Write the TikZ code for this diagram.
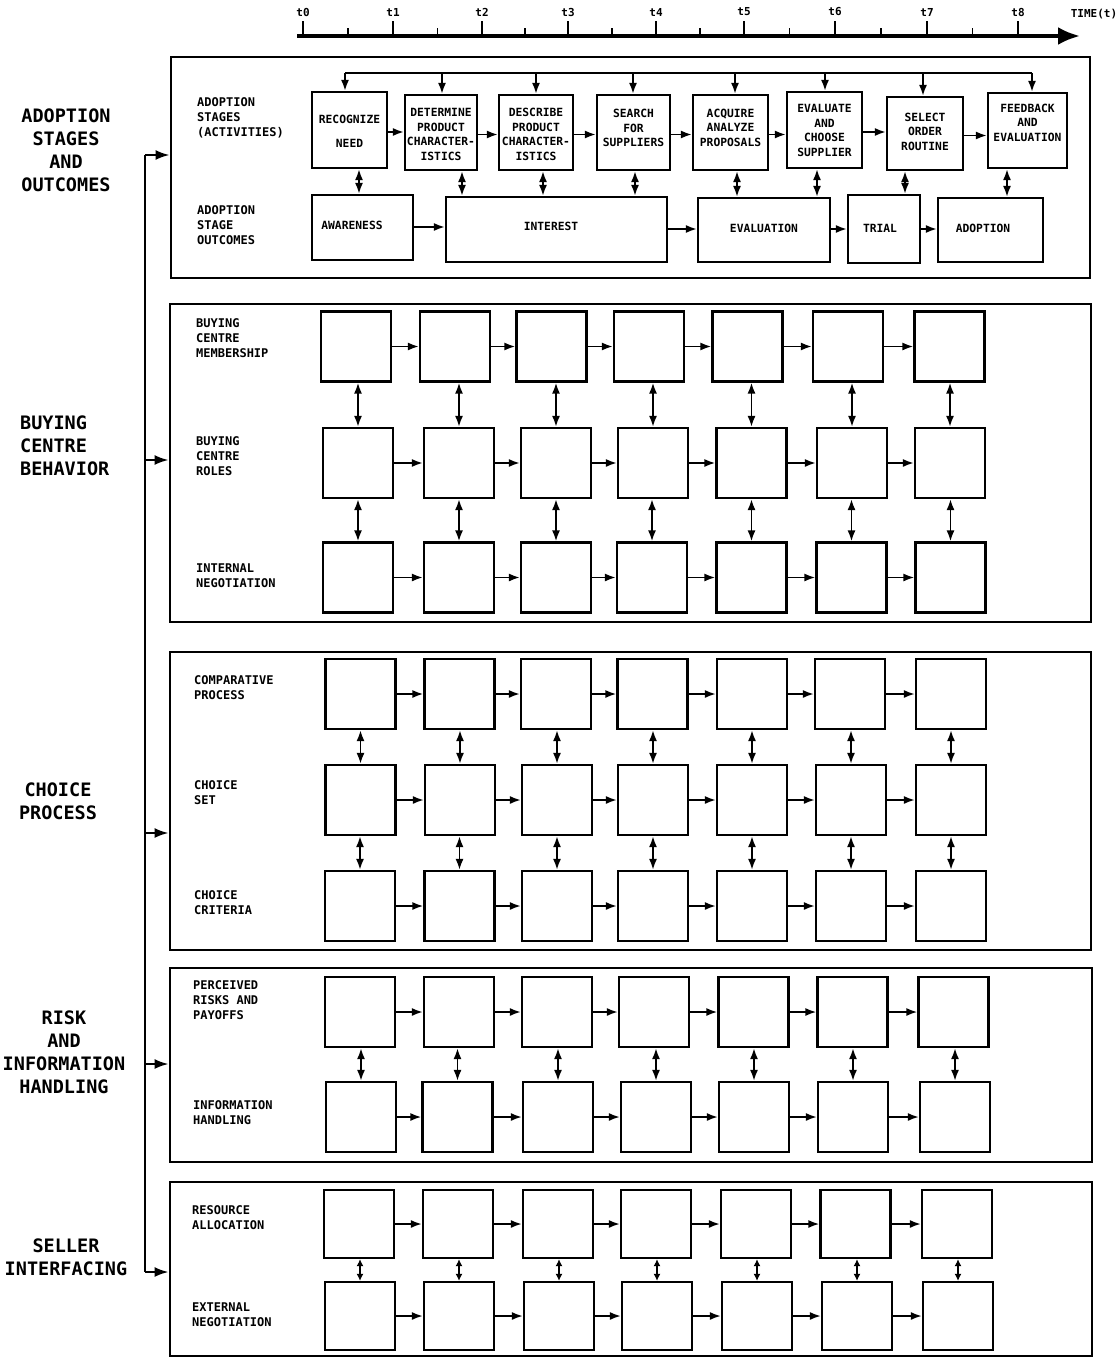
\documentclass[tikz,border=0pt]{standalone}
\usepackage{fontspec}
\setmonofont{DejaVu Sans Mono}
\usetikzlibrary{arrows.meta,calc}
\newcommand\fntbox{\ttfamily\bfseries\fontsize{11.3}{14.5}\selectfont}
\newcommand\fntlab{\ttfamily\bfseries\fontsize{12}{14.8}\selectfont}
\newcommand\fntbig{\ttfamily\bfseries\fontsize{18.5}{23}\selectfont}
\newcommand\fnttime{\ttfamily\bfseries\fontsize{11}{12}\selectfont}
\begin{document}
\begin{tikzpicture}[x=1pt,y=-1pt,
  panel/.style={draw, line width=2.8pt, inner sep=0pt},
  bx/.style={draw, line width=2.2pt, minimum width=70pt, minimum height=70pt, inner sep=0pt},
  abox/.style={draw, line width=2.2pt, inner sep=0pt},
  btxt/.style={inner sep=0pt, align=center, font=\fntbox},
  arr/.style={line width=1.8pt, -{Latex[length=11pt,width=8pt]}},
  darr/.style={line width=1.8pt, {Latex[length=11pt,width=8pt]}-{Latex[length=11pt,width=8pt]}},
  sdarr/.style={line width=1.8pt, {Latex[length=7pt,width=7pt]}-{Latex[length=7pt,width=7pt]}},
  barr/.style={line width=2.2pt, -{Latex[length=14pt,width=10pt]}},
  lab/.style={anchor=west, align=left, inner sep=0pt, font=\fntlab},
  big/.style={align=center, inner sep=0pt, font=\fntbig},
  tick/.style={line width=1.4pt},
]
\useasboundingbox (0,0) rectangle (1116,1359);

% ---------------- time axis
\coordinate (ax0) at (297,36);
\coordinate (ax1) at (1080,36);
\draw[line width=3.8pt, -{Latex[length=22pt,width=18pt]}] (ax0) -- (ax1);
\foreach \x [count=\i from 0] in {303,393,482,568,656,744,835,927,1018}{
  \draw[tick] (\x,36) -- (\x,21);
  \node[font=\fnttime, inner sep=0pt] (t\i) at (\x,12) {t\i};
}
\foreach \x in {348,437.5,525,612,700,789.5,881,972.5}{
  \draw[tick] (\x,36) -- (\x,28);
}
\node[font=\fnttime, inner sep=0pt] (timelab) at (1094,14) {TIME(t)};

% ---------------- panels
\node[panel, minimum width=919pt, minimum height=221pt] (P1) at (630.5,167.5) {};
\node[panel, minimum width=921pt, minimum height=318pt] (P2) at (630.5,463) {};
\node[panel, minimum width=921pt, minimum height=298pt] (P3) at (630.5,801) {};
\node[panel, minimum width=922pt, minimum height=194pt] (P4) at (631,1065) {};
\node[panel, minimum width=922pt, minimum height=174pt] (P5) at (631,1269) {};

% ---------------- left side labels and bracket
\node[big] (L1) at (66,150) {ADOPTION\\STAGES\\AND\\OUTCOMES};
\node[big, anchor=west, align=left] (L2) at (20,446) {BUYING\\CENTRE\\BEHAVIOR};
\node[big] (L3) at (58,801) {CHOICE\\PROCESS};
\node[big] (L4) at (64,1052) {RISK\\AND\\INFORMATION\\HANDLING};
\node[big] (L5) at (66,1257) {SELLER\\INTERFACING};

\coordinate (bk1) at (145,155);
\coordinate (bk2) at (145,460);
\coordinate (bk3) at (145,833);
\coordinate (bk4) at (145,1064);
\coordinate (bk5) at (145,1272);
\draw[line width=2.2pt] (bk1) -- (bk5);
\draw[barr] (bk1) -- (bk1 -| P1.west);
\draw[barr] (bk2) -- (bk2 -| P2.west);
\draw[barr] (bk3) -- (bk3 -| P3.west);
\draw[barr] (bk4) -- (bk4 -| P4.west);
\draw[barr] (bk5) -- (bk5 -| P5.west);

% ---------------- panel 1: adoption stages
\node[lab] (S1) at (197,118) {ADOPTION\\STAGES\\(ACTIVITIES)};
\node[lab] (S2) at (197,225) {ADOPTION\\STAGE\\OUTCOMES};

\node[abox, minimum width=75pt, minimum height=76pt] (A1) at (349.5,130) {};
\node[abox, minimum width=72pt, minimum height=75pt] (A2) at (441,132.5) {};
\node[abox, minimum width=74pt, minimum height=75pt] (A3) at (536,132.5) {};
\node[abox, minimum width=73pt, minimum height=75pt] (A4) at (633.5,132.5) {};
\node[abox, minimum width=75pt, minimum height=75pt] (A5) at (730.5,132.5) {};
\node[abox, minimum width=75pt, minimum height=76pt] (A6) at (824.5,130) {};
\node[abox, minimum width=76pt, minimum height=73pt] (A7) at (925,133.5) {};
\node[abox, minimum width=79pt, minimum height=75pt] (A8) at (1027.5,130.5) {};

\node[btxt] (A1t) at ($(A1.center)+(0,1.5)$) {RECOGNIZE\\[9pt]NEED};
\node[btxt] (A2t) at ($(A2.center)+(0,2)$) {DETERMINE\\PRODUCT\\CHARACTER-\\ISTICS};
\node[btxt] (A3t) at ($(A3.center)+(0,2)$) {DESCRIBE\\PRODUCT\\CHARACTER-\\ISTICS};
\node[btxt] (A4t) at ($(A4.center)+(0,-4.5)$) {SEARCH\\FOR\\SUPPLIERS};
\node[btxt] (A5t) at ($(A5.center)+(0,-5)$) {ACQUIRE\\ANALYZE\\PROPOSALS};
\node[btxt] (A6t) at ($(A6.center)+(0,0.5)$) {EVALUATE\\AND\\CHOOSE\\SUPPLIER};
\node[btxt] (A7t) at ($(A7.center)+(0,-2)$) {SELECT\\ORDER\\ROUTINE};
\node[btxt] (A8t) at ($(A8.center)+(0,-8)$) {FEEDBACK\\AND\\EVALUATION};

\foreach \c in {1,...,7}{
  \pgfmathtruncatemacro\nx{\c+1}
  \coordinate (ha\c) at ($(A\c.east)+(0,2)$);
  \draw[arr] (ha\c) -- (ha\c -| A\nx.west);
}

% feedback bus
\coordinate (fbL) at (345,73);
\coordinate (fbR) at (1032,73);
\draw[line width=1.8pt] (fbL) -- (fbR);
\foreach \x [count=\c] in {345,442,536,633,735,825,923,1032}{
  \coordinate (fb\c) at (\x,73);
  \draw[arr] (fb\c) -- (fb\c |- A\c.north);
}

\node[abox, minimum width=101pt, minimum height=65pt] (O1) at (362.5,227.5) {};
\node[abox, minimum width=221pt, minimum height=65pt] (O2) at (556.5,229.5) {};
\node[abox, minimum width=132pt, minimum height=64pt] (O3) at (764,230) {};
\node[abox, minimum width=72pt, minimum height=68pt] (O4) at (884,229) {};
\node[abox, minimum width=105pt, minimum height=64pt] (O5) at (990.5,230) {};
\node[btxt] (O1t) at (352,225) {AWARENESS};
\node[btxt] (O2t) at (551,226) {INTEREST};
\node[btxt] (O3t) at (764,228) {EVALUATION};
\node[btxt] (O4t) at (880,228) {TRIAL};
\node[btxt] (O5t) at (983,228) {ADOPTION};

\coordinate (ho1) at (413,227);
\draw[arr] (ho1) -- (ho1 -| O2.west);
\coordinate (ho2) at (667,229);
\draw[arr] (ho2) -- (ho2 -| O3.west);
\coordinate (ho3) at (830,229);
\draw[arr] (ho3) -- (ho3 -| O4.west);
\coordinate (ho4) at (920,229);
\draw[arr] (ho4) -- (ho4 -| O5.west);

\coordinate (vx1) at (359,0);
\coordinate (vx2) at (462,0);
\coordinate (vx3) at (543,0);
\coordinate (vx4) at (635,0);
\coordinate (vx5) at (737,0);
\coordinate (vx6) at (817,0);
\coordinate (vx7) at (905,0);
\coordinate (vx8) at (1007,0);
\draw[darr] (A1.south -| vx1) -- (O1.north -| vx1);
\draw[darr] (A2.south -| vx2) -- (O2.north -| vx2);
\draw[darr] (A3.south -| vx3) -- (O2.north -| vx3);
\draw[darr] (A4.south -| vx4) -- (O2.north -| vx4);
\draw[darr] (A5.south -| vx5) -- (O3.north -| vx5);
\draw[darr] (A6.south -| vx6) -- (O3.north -| vx6);
\draw[darr] (A7.south -| vx7) -- (O4.north -| vx7);
\draw[darr] (A8.south -| vx8) -- (O5.north -| vx8);

% ---------------- panel 2: buying centre
\node[lab] (M1) at (196,338) {BUYING\\CENTRE\\MEMBERSHIP};
\node[lab] (M2) at (196,456) {BUYING\\CENTRE\\ROLES};
\node[lab] (M3) at (196,575.5) {INTERNAL\\NEGOTIATION};
\foreach \x [count=\c] in {356,455,551.5,649,747.5,848,949.5}
  \node[bx] (g2a\c) at (\x,346.5) {};
\foreach \x [count=\c] in {358,459,556,653,751.5,852,950}
  \node[bx] (g2b\c) at (\x,463) {};
\foreach \x [count=\c] in {358,459,556,652,751.5,851.5,950.5}
  \node[bx] (g2c\c) at (\x,577.5) {};

% ---------------- panel 3: choice process
\node[lab] (C1) at (194,687.5) {COMPARATIVE\\PROCESS};
\node[lab] (C2) at (194,792.5) {CHOICE\\SET};
\node[lab] (C3) at (194,903) {CHOICE\\CRITERIA};
\foreach \x [count=\c] in {360.5,459.5,556,652.5,752,850,951}
  \node[bx] (g3a\c) at (\x,694) {};
\foreach \x [count=\c] in {360.5,460,557,653,752,851,951}
  \node[bx] (g3b\c) at (\x,800) {};
\foreach \x [count=\c] in {360,459.5,557,653,752,851,951}
  \node[bx] (g3c\c) at (\x,906) {};

% ---------------- panel 4: risk and information
\node[lab] (R1) at (193,1000) {PERCEIVED\\RISKS AND\\PAYOFFS};
\node[lab] (R2) at (193,1112.5) {INFORMATION\\HANDLING};
\foreach \x [count=\c] in {360,459,557,654,753.5,852.5,953.5}
  \node[bx] (g4a\c) at (\x,1012) {};
\foreach \x [count=\c] in {361,457.5,558,656,754,853,955}
  \node[bx] (g4b\c) at (\x,1117) {};

% ---------------- panel 5: seller interfacing
\node[lab] (E1) at (192,1217.5) {RESOURCE\\ALLOCATION};
\node[lab] (E2) at (192,1314.5) {EXTERNAL\\NEGOTIATION};
\foreach \x [count=\c] in {359,458,558,656,756,855.5,957}
  \node[bx, minimum height=68pt] (g5a\c) at (\x,1224) {};
\foreach \x [count=\c] in {360,459,559,657,757,857,958}
  \node[bx, minimum height=68pt] (g5b\c) at (\x,1316) {};

% ---------------- grid connectors
\foreach \r in {g2a,g2b,g2c,g3a,g3b,g3c,g4a,g4b,g5a,g5b}{
  \foreach \c in {1,...,6}{
    \pgfmathtruncatemacro\nx{\c+1}
    \draw[arr] (\r\c.east) -- (\r\c.east -| \r\nx.west);
  }
}
\foreach \u/\l in {g2a/g2b,g2b/g2c,g3a/g3b,g3b/g3c,g4a/g4b}{
  \foreach \c in {1,...,7}{
    \draw[darr] (\u\c.south -| \l\c.north) -- (\l\c.north);
  }
}
\foreach \c in {1,...,7}{
  \draw[sdarr] (g5a\c.south -| g5b\c.north) -- (g5b\c.north);
}
\end{tikzpicture}
\end{document}
